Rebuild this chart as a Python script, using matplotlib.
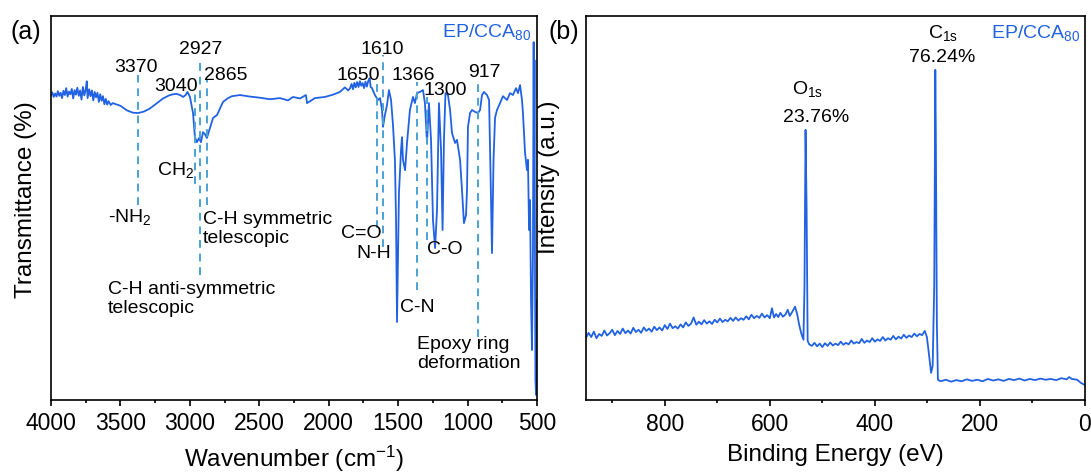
import matplotlib
matplotlib.use("Agg")
import matplotlib.pyplot as plt
from matplotlib.ticker import MultipleLocator

plt.rcParams['font.family'] = ['Liberation Sans', 'DejaVu Sans']
plt.rcParams['mathtext.fontset'] = 'custom'
plt.rcParams['mathtext.rm'] = 'Liberation Sans'
plt.rcParams['mathtext.it'] = 'Liberation Sans:italic'

# ---- (a) FTIR spectrum ----
ftir_wn = [4000, 3990, 3980, 3970, 3960, 3950, 3940, 3930, 3920, 3910, 3900, 3890,
           3880, 3870, 3860, 3850, 3840, 3830, 3820, 3810, 3800, 3790, 3780, 3770,
           3760, 3750, 3742, 3736, 3725, 3715, 3705, 3695, 3685, 3675, 3665, 3655,
           3645, 3635, 3625, 3615, 3605, 3595, 3585, 3570, 3555, 3540, 3500, 3453,
           3410, 3373, 3330, 3287, 3240, 3193, 3150, 3121, 3093, 3065, 3049, 3030,
           3017, 2999, 2977, 2963, 2949, 2934, 2920, 2905, 2891, 2877, 2855, 2833,
           2804, 2761, 2725, 2696, 2639, 2567, 2495, 2423, 2351, 2293, 2257, 2207,
           2164, 2156, 2099, 2027, 1969, 1919, 1883, 1860, 1847, 1835, 1825, 1815,
           1805, 1795, 1785, 1775, 1765, 1755, 1745, 1735, 1725, 1715, 1705, 1698,
           1688, 1667, 1645, 1630, 1616, 1609, 1595, 1580, 1566, 1551, 1537, 1523,
           1515, 1508, 1501, 1494, 1479, 1472, 1465, 1450, 1436, 1415, 1393, 1379,
           1364, 1343, 1321, 1307, 1292, 1278, 1263, 1249, 1234, 1220, 1206, 1191,
           1180, 1170, 1159, 1141, 1126, 1112, 1090, 1076, 1054, 1040, 1026, 1011,
           1004, 997, 982, 968, 946, 925, 910, 896, 882, 860, 845, 835,
           824, 813, 802, 788, 766, 745, 716, 694, 673, 651, 637, 622,
           608, 601, 586, 572, 565, 557, 550, 543, 536, 529, 524, 521,
           518, 514, 511, 507, 504, 500]
ftir_t = [79.3, 80.1, 78.9, 79.8, 79.0, 80.4, 79.2, 80.0, 78.6, 80.5, 79.4, 81.2,
          79.0, 80.3, 79.6, 81.0, 78.5, 80.7, 79.5, 81.3, 79.2, 80.6, 78.2, 81.5,
          79.3, 80.8, 83.0, 78.6, 80.9, 79.1, 80.6, 78.0, 80.2, 78.8, 80.0, 77.6,
          79.6, 77.9, 79.1, 77.0, 78.4, 76.9, 77.8, 76.8, 77.3, 77.1, 76.6, 75.4,
          74.8, 74.7, 75.1, 75.9, 77.2, 78.5, 79.3, 79.6, 79.7, 79.3, 78.9, 79.4,
          80.2, 78.9, 74.7, 68.4, 67.1, 68.2, 67.1, 69.7, 69.2, 68.2, 70.8, 73.4,
          74.2, 77.6, 78.6, 79.1, 79.4, 79.0, 78.7, 78.3, 78.6, 78.0, 78.9, 78.5,
          79.4, 77.3, 78.6, 78.9, 79.5, 80.2, 81.4, 80.6, 81.1, 82.3, 80.9, 82.6,
          81.4, 82.8, 81.5, 83.0, 81.8, 82.5, 81.2, 82.9, 81.6, 83.1, 83.8, 81.5,
          81.2, 79.4, 78.1, 78.6, 75.5, 71.1, 74.2, 76.8, 80.7, 78.1, 71.6, 62.5,
          46.8, 20.2, 36.4, 53.8, 65.1, 68.4, 62.5, 59.8, 66.9, 75.5, 78.9, 77.3,
          79.9, 80.2, 80.7, 77.3, 66.9, 77.3, 67.7, 46.8, 39.5, 49.4, 77.3, 65.1,
          44.2, 67.7, 79.9, 79.4, 75.5, 69.5, 66.9, 67.7, 62.5, 54.6, 46.0, 48.1,
          54.6, 71.1, 74.7, 75.5, 75.0, 74.7, 75.5, 79.4, 80.2, 79.4, 78.1, 59.8,
          38.2, 62.5, 73.5, 75.5, 77.3, 79.1, 78.1, 79.9, 79.4, 81.2, 79.9, 82.0,
          78.1, 74.7, 64.3, 59.8, 62.5, 44.2, 52.0, 25.9, 12.9, 39.0, 93.2, 60.0,
          88.5, 30.0, 5.1, 1.2, 25.9, 2.5]

# dashed marker lines: position, top and bottom (in % units)
mark_wn = [3370, 2963, 2927, 2877, 1654, 1607, 1362, 1290, 923]
mark_top = [84.6, 80.2, 88.3, 83.3, 82.8, 89.8, 82.8, 78.9, 83.3]
mark_bot = [50.7, 56.2, 32.5, 50.7, 44.7, 39.8, 28.6, 41.6, 16.3]

# ---- (b) XPS survey ----
xps_be = [950, 945, 940, 935, 930, 925, 920, 915, 910, 905, 900, 895, 890, 885,
          880, 875, 870, 865, 860, 855, 850, 845, 840, 835, 830, 825, 820, 815,
          810, 805, 800, 795, 790, 785, 780, 775, 770, 765, 760, 755, 750, 745,
          740, 735, 730, 725, 720, 715, 710, 705, 700, 695, 690, 685, 680, 675,
          670, 665, 660, 655, 650, 645, 640, 635, 630, 625, 620, 615, 610, 605,
          600, 596, 592, 588, 584, 580, 575, 570, 566, 562, 558, 552, 548, 544,
          540, 536, 534, 532, 530, 528, 525, 520, 515, 510, 505, 500, 495, 490,
          485, 480, 475, 470, 465, 460, 455, 450, 445, 440, 435, 430, 425, 420,
          415, 410, 405, 400, 395, 390, 385, 380, 375, 370, 365, 360, 355, 350,
          345, 340, 335, 330, 325, 320, 315, 310, 305, 301, 297, 293, 290, 287,
          285, 284, 282, 280, 275, 265, 255, 245, 235, 225, 215, 205, 195, 185,
          175, 165, 155, 145, 135, 125, 115, 105, 95, 85, 75, 65, 55, 45,
          35, 30, 25, 15, 8, 0]
xps_int = [16.3, 17.6, 16.5, 17.9, 16.2, 17.3, 16.8, 18.2, 16.9, 17.5, 18.4, 17.0, 18.1, 17.3,
           18.7, 17.5, 18.2, 17.4, 18.9, 17.8, 18.4, 17.6, 19.0, 18.1, 18.7, 17.9, 19.2, 18.3,
           19.0, 18.2, 19.6, 18.6, 20.0, 18.8, 19.3, 18.7, 19.8, 19.0, 20.3, 19.4, 20.0, 21.6,
           19.7, 20.5, 19.8, 20.9, 20.0, 20.6, 19.9, 21.0, 20.3, 21.3, 20.4, 21.0, 20.6, 21.5,
           20.7, 21.6, 20.8, 21.4, 21.0, 21.9, 21.1, 22.3, 21.4, 22.0, 21.5, 22.6, 21.6, 22.2,
           21.4, 24.0, 21.6, 22.5, 21.7, 22.8, 21.8, 22.4, 23.6, 22.0, 22.9, 24.4, 22.5, 19.6,
           17.4, 15.8, 30.0, 70.4, 50.0, 15.5, 14.6, 14.2, 15.0, 14.1, 14.8, 13.9, 14.9, 14.2,
           15.1, 14.3, 14.8, 14.4, 15.3, 14.5, 15.0, 14.6, 15.6, 14.8, 15.2, 14.9, 16.0, 15.0,
           15.6, 15.2, 16.2, 15.3, 15.9, 15.5, 16.5, 15.6, 16.2, 15.8, 16.8, 15.9, 16.6, 16.1,
           17.1, 16.3, 16.9, 16.5, 17.4, 16.7, 17.3, 17.0, 18.1, 16.5, 12.0, 7.2, 9.0, 30.0,
           86.0, 70.0, 20.0, 5.4, 5.0, 5.4, 4.9, 5.3, 5.0, 5.5, 5.1, 5.4, 5.0, 5.6,
           5.2, 5.5, 5.1, 5.6, 5.3, 5.7, 5.2, 5.6, 5.3, 5.7, 5.4, 5.6, 5.3, 5.8,
           5.5, 6.1, 5.6, 5.4, 4.6, 4.0]

line_blue = '#2162e3'
dash_blue = '#4ba2d6'
txt = 14

fig = plt.figure(figsize=(10.91, 4.72), dpi=100)
ax1 = fig.add_axes([0.0467, 0.1536, 0.4455, 0.8124])
ax2 = fig.add_axes([0.5371, 0.1515, 0.4574, 0.8145])

# panel (a)
ax1.plot(ftir_wn, ftir_t, color=line_blue, lw=1.3)
ax1.vlines(mark_wn, mark_bot, mark_top, colors=dash_blue, lw=1.4,
           linestyles=(0, (4, 3)))
ax1.set_xlim(4000, 500)
ax1.set_ylim(0, 100)
ax1.xaxis.set_major_locator(MultipleLocator(500))
ax1.xaxis.set_minor_locator(MultipleLocator(250))
ax1.set_xlabel('Wavenumber (cm$^{\\mathregular{-1}}$)', fontsize=17.5, labelpad=6)
ax1.set_ylabel('Transmittance (%)', fontsize=17.5)
ax1.yaxis.set_label_coords(-0.029, 0.52)

for s, x, y in [('3370', 3390, 86.7), ('3040', 3100, 81.5), ('2927', 2920, 91.4),
                ('1650', 1789, 84.6), ('1610', 1616, 91.4), ('1366', 1393, 84.6),
                ('1300', 1162, 80.7), ('917', 882, 85.4), ('N-H', 1674, 38.2),
                ('C-N', 1360, 23.9), ('C-O', 1162, 39.0), ('-NH$_\\mathregular{2}$', 3431, 47.6),
                ('CH$_\\mathregular{2}$', 3103, 59.8)]:
    ax1.text(x, y, s, fontsize=txt, ha='center', va='center')
ax1.text(2895, 84.6, '2865', fontsize=txt, ha='left', va='center')
ax1.text(1616, 43.4, 'C=O', fontsize=txt, ha='right', va='center')
ax1.text(2905, 44.5, 'C-H symmetric\ntelescopic', fontsize=txt, ha='left', va='center')
ax1.text(3589, 26.2, 'C-H anti-symmetric\ntelescopic', fontsize=txt, ha='left', va='center')
ax1.text(1366, 11.9, 'Epoxy ring\ndeformation', fontsize=txt, ha='left', va='center')
ax1.text(0.988, 0.958, 'EP/CCA$_\\mathregular{80}$', color=line_blue, fontsize=14,
         ha='right', va='center', transform=ax1.transAxes)

# panel (b)
ax2.plot(xps_be, xps_int, color=line_blue, lw=1.3)
ax2.set_xlim(950, 0)
ax2.set_ylim(0, 100)
ax2.xaxis.set_major_locator(MultipleLocator(200))
ax2.xaxis.set_minor_locator(MultipleLocator(100))
ax2.set_xlabel('Binding Energy (eV)', fontsize=17.5, labelpad=6)
ax2.set_ylabel('Intensity (a.u.)', fontsize=17.5)
ax2.yaxis.set_label_coords(-0.052, 0.58)
ax2.text(528, 81.0, 'O$_\\mathregular{1s}$', fontsize=txt, ha='center', va='center')
ax2.text(512, 73.7, '23.76%', fontsize=txt, ha='center', va='center')
ax2.text(270, 95.6, 'C$_\\mathregular{1s}$', fontsize=txt, ha='center', va='center')
ax2.text(272, 89.3, '76.24%', fontsize=txt, ha='center', va='center')
ax2.text(0.990, 0.955, 'EP/CCA$_\\mathregular{80}$', color=line_blue, fontsize=14,
         ha='right', va='center', transform=ax2.transAxes)

for ax in (ax1, ax2):
    ax.tick_params(axis='y', left=False, labelleft=False)
    ax.tick_params(axis='x', which='major', direction='out', length=4, width=1.2,
                   labelsize=16.5, pad=5)
    ax.tick_params(axis='x', which='minor', direction='out', length=2.5, width=1.2)
    for sp in ax.spines.values():
        sp.set_linewidth(1.2)

fig.text(0.0238, 0.932, '(a)', fontsize=18, ha='center', va='center')
fig.text(0.517, 0.932, '(b)', fontsize=18, ha='center', va='center')

fig.savefig('out.png', dpi=100)
